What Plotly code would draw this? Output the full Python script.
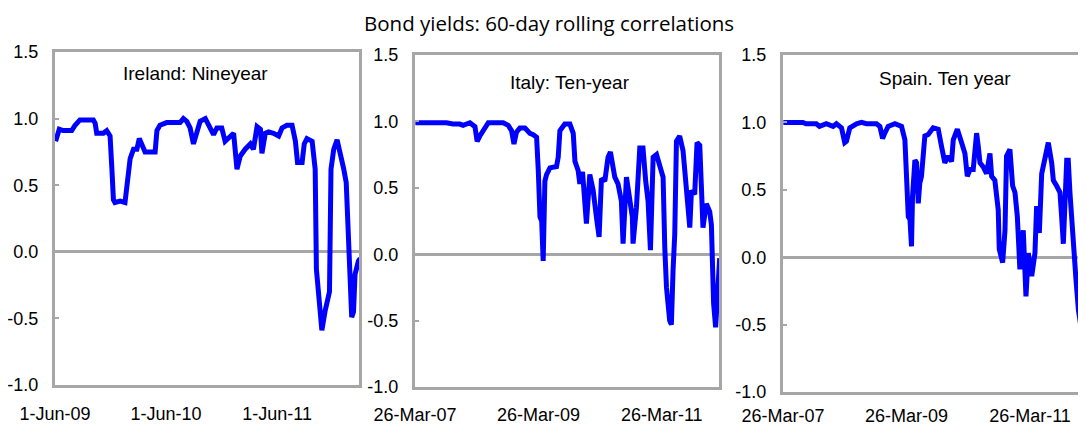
import plotly.graph_objects as go

title_text = "Bond yields: 60-day rolling correlations"
panel_titles = ["Ireland: Nineyear", "Italy: Ten-year", "Spain. Ten year"]

ireland_dates = ["2009-06-03", "2009-06-15", "2009-06-28", "2009-07-26", "2009-08-06", "2009-08-22",
                 "2009-10-05", "2009-10-11", "2009-10-16", "2009-11-07", "2009-11-18", "2009-11-29",
                 "2009-12-05", "2009-12-10", "2009-12-15", "2010-01-01", "2010-01-17", "2010-01-23",
                 "2010-02-03", "2010-02-14", "2010-02-25", "2010-03-05", "2010-03-13", "2010-03-24",
                 "2010-04-26", "2010-05-02", "2010-05-12", "2010-06-03", "2010-07-17", "2010-07-28",
                 "2010-08-08", "2010-08-19", "2010-08-30", "2010-09-10", "2010-09-21", "2010-10-08",
                 "2010-10-18", "2010-11-04", "2010-11-15", "2010-12-01", "2010-12-12", "2010-12-29",
                 "2011-01-09", "2011-01-20", "2011-01-31", "2011-02-16", "2011-03-05", "2011-03-15",
                 "2011-03-27", "2011-04-07", "2011-04-12", "2011-04-23", "2011-05-04", "2011-05-20",
                 "2011-06-06", "2011-06-17", "2011-07-03", "2011-07-20", "2011-07-31", "2011-08-07",
                 "2011-08-22", "2011-08-29", "2011-09-07", "2011-09-24", "2011-10-04", "2011-10-08",
                 "2011-10-15", "2011-10-26", "2011-11-06", "2011-11-17", "2011-11-20", "2011-11-25",
                 "2011-12-04", "2011-12-15", "2011-12-26", "2012-01-06", "2012-01-14", "2012-01-22",
                 "2012-01-27", "2012-02-01", "2012-02-07", "2012-02-12", "2012-02-23", "2012-02-29"]
ireland_vals = [0.83, 0.92, 0.91, 0.91, 0.95, 0.99,
                0.99, 0.965, 0.89, 0.89, 0.91, 0.87,
                0.62, 0.39, 0.37, 0.38, 0.37, 0.51,
                0.70, 0.77, 0.77, 0.85, 0.81, 0.75,
                0.75, 0.91, 0.95, 0.97, 0.97, 1.00,
                0.98, 0.93, 0.81, 0.89, 0.98, 1.00,
                0.96, 0.88, 0.93, 0.93, 0.83, 0.87,
                0.89, 0.62, 0.72, 0.77, 0.81, 0.77,
                0.94, 0.92, 0.74, 0.89, 0.90, 0.89,
                0.87, 0.93, 0.95, 0.95, 0.83, 0.67,
                0.67, 0.81, 0.85, 0.83, 0.62, -0.13,
                -0.34, -0.59, -0.44, -0.32, -0.30, 0.62,
                0.77, 0.84, 0.74, 0.62, 0.52, -0.03,
                -0.26, -0.49, -0.45, -0.17, -0.07, -0.05]

italy_dates = ["2007-03-28", "2007-09-28", "2007-11-06", "2007-12-16", "2008-01-05", "2008-02-14",
               "2008-03-15", "2008-03-28", "2008-04-13", "2008-05-13", "2008-06-02", "2008-08-29",
               "2008-09-28", "2008-10-18", "2008-11-01", "2008-11-16", "2008-12-06", "2009-01-05",
               "2009-02-04", "2009-02-23", "2009-03-15", "2009-03-25", "2009-04-04", "2009-04-14",
               "2009-04-23", "2009-05-03", "2009-05-13", "2009-06-02", "2009-07-11", "2009-07-21",
               "2009-07-31", "2009-08-29", "2009-09-28", "2009-10-18", "2009-10-28", "2009-11-16",
               "2009-11-26", "2009-12-12", "2009-12-26", "2010-01-04", "2010-01-24", "2010-02-13",
               "2010-03-04", "2010-03-20", "2010-04-03", "2010-04-23", "2010-05-12", "2010-05-26",
               "2010-06-21", "2010-07-10", "2010-07-30", "2010-08-09", "2010-08-29", "2010-09-17",
               "2010-10-03", "2010-10-07", "2010-10-27", "2010-11-16", "2010-12-05", "2010-12-21",
               "2011-01-04", "2011-01-18", "2011-02-03", "2011-02-23", "2011-03-14", "2011-04-03",
               "2011-04-13", "2011-04-23", "2011-05-12", "2011-05-22", "2011-06-01", "2011-06-11",
               "2011-06-21", "2011-07-10", "2011-07-30", "2011-08-19", "2011-09-08", "2011-09-18",
               "2011-10-07", "2011-10-21", "2011-11-06", "2011-11-16", "2011-11-25", "2011-12-15",
               "2012-01-04", "2012-01-14", "2012-01-19", "2012-01-27", "2012-02-08", "2012-02-22",
               "2012-03-03"]
italy_vals = [0.99, 0.99, 0.98, 0.98, 0.97, 0.99,
              0.96, 0.85, 0.89, 0.95, 0.99, 0.99,
              0.97, 0.93, 0.83, 0.92, 0.95, 0.95,
              0.91, 0.90, 0.88, 0.63, 0.28, 0.25,
              -0.05, 0.55, 0.60, 0.65, 0.66, 0.73,
              0.93, 0.98, 0.98, 0.91, 0.70, 0.63,
              0.53, 0.62, 0.38, 0.23, 0.60, 0.48,
              0.28, 0.13, 0.57, 0.55, 0.73, 0.77,
              0.58, 0.53, 0.40, 0.08, 0.58, 0.38,
              0.28, 0.08, 0.35, 0.80, 0.80, 0.55,
              0.40, 0.03, 0.73, 0.75, 0.65, 0.58,
              0.05, -0.25, -0.50, -0.53, -0.12, 0.15,
              0.85, 0.89, 0.78, 0.50, 0.20, 0.48,
              0.45, 0.84, 0.82, 0.50, 0.20, 0.38,
              0.32, 0.22, 0.00, -0.37, -0.55, -0.25,
              -0.03]

spain_dates = ["2007-03-28", "2007-07-21", "2007-08-10", "2007-10-09", "2007-10-28", "2007-12-07",
               "2008-01-16", "2008-02-05", "2008-03-06", "2008-03-25", "2008-04-04", "2008-04-24",
               "2008-06-03", "2008-07-02", "2008-08-01", "2008-09-29", "2008-10-19", "2008-11-04",
               "2008-11-17", "2008-12-07", "2009-01-16", "2009-02-24", "2009-03-16", "2009-03-26",
               "2009-04-05", "2009-04-15", "2009-04-24", "2009-04-30", "2009-05-14", "2009-05-24",
               "2009-06-03", "2009-06-12", "2009-06-22", "2009-07-12", "2009-08-01", "2009-08-30",
               "2009-09-29", "2009-10-19", "2009-11-07", "2009-11-27", "2009-12-17", "2009-12-27",
               "2010-01-20", "2010-02-14", "2010-03-06", "2010-03-20", "2010-04-05", "2010-04-24",
               "2010-05-04", "2010-05-14", "2010-05-24", "2010-06-03", "2010-06-22", "2010-07-12",
               "2010-08-01", "2010-08-11", "2010-08-30", "2010-09-19", "2010-09-25", "2010-10-15",
               "2010-10-29", "2010-11-07", "2010-11-27", "2010-12-13", "2010-12-27", "2011-01-10",
               "2011-01-25", "2011-02-14", "2011-03-02", "2011-03-16", "2011-04-05", "2011-04-24",
               "2011-05-04", "2011-05-20", "2011-06-03", "2011-06-23", "2011-07-12", "2011-08-01",
               "2011-08-11", "2011-08-30", "2011-09-19", "2011-09-29", "2011-10-09", "2011-10-29",
               "2011-11-07", "2011-11-17", "2011-11-27", "2011-12-07", "2011-12-23", "2012-01-06",
               "2012-01-16", "2012-02-05", "2012-02-15", "2012-02-20", "2012-03-01"]
spain_vals = [1.00, 1.00, 0.99, 0.99, 0.97, 0.99,
              0.97, 0.99, 0.96, 0.85, 0.86, 0.96,
              0.99, 1.00, 0.99, 0.99, 0.97, 0.88,
              0.92, 0.97, 0.99, 0.97, 0.87, 0.62,
              0.30, 0.28, 0.08, 0.45, 0.72, 0.70,
              0.40, 0.55, 0.60, 0.90, 0.91, 0.96,
              0.95, 0.82, 0.70, 0.75, 0.71, 0.87,
              0.95, 0.85, 0.77, 0.60, 0.65, 0.65,
              0.82, 0.92, 0.82, 0.70, 0.67, 0.62,
              0.77, 0.60, 0.57, 0.35, 0.06, -0.04,
              0.20, 0.75, 0.80, 0.53, 0.48, 0.30,
              -0.09, 0.20, -0.29, 0.03, -0.14, 0.03,
              0.38, 0.18, 0.62, 0.75, 0.85, 0.70,
              0.57, 0.53, 0.48, 0.30, 0.10, 0.72,
              0.72, 0.48, 0.27, 0.08, -0.17, -0.39,
              -0.49, -0.64, -0.32, -0.22, -0.15]

ireland_ticks = ["2009-06-01", "2010-06-01", "2011-06-01"]
ireland_ticktext = ["1-Jun-09", "1-Jun-10", "1-Jun-11"]
mar_ticks = ["2007-03-26", "2009-03-26", "2011-03-26"]
mar_ticktext = ["26-Mar-07", "26-Mar-09", "26-Mar-11"]
y_ticks = [-1.0, -0.5, 0.0, 0.5, 1.0, 1.5]
y_ticktext = ["-1.0", "-0.5", "0.0", "0.5", "1.0", "1.5"]

# The page body keeps its default 8px margin, so the figure is drawn 8px in from the
# window's top-left corner; size it to fill the rest of the 1086x427 window.
PAGE_W, PAGE_H, OFF = 1086, 427, 8
W, H = PAGE_W - OFF, PAGE_H - OFF
GRAY = "#A6A6A6"
BLUE = "#0000FF"
TICKFONT = dict(family="Liberation Sans, Arial, sans-serif", size=18, color="#000000")


def fx(px):
    return min(1.0, max(0.0, (px - OFF) / W))


def fy(py):
    return min(1.0, max(0.0, 1 - (py - OFF) / H))


panels = [
    dict(dates=ireland_dates, vals=ireland_vals, ticks=ireland_ticks, ticktext=ireland_ticktext,
         xrange=["2009-06-01", "2012-02-25"], px=(55, 359), py=(52, 385), mirror_y=True,
         title_xy=(195, 74), standoff=10),
    dict(dates=italy_dates, vals=italy_vals, ticks=mar_ticks, ticktext=mar_ticktext,
         xrange=["2007-03-26", "2012-02-28"], px=(415, 719), py=(55, 387), mirror_y=True,
         title_xy=(570, 82), standoff=9),
    dict(dates=spain_dates, vals=spain_vals, ticks=mar_ticks, ticktext=mar_ticktext,
         xrange=["2007-03-26", "2012-02-20"], px=(783, 1086), py=(55, 392), mirror_y=False,
         title_xy=(945, 79), standoff=5),
]

fig = go.Figure()
layout = dict(width=W, height=H, margin=dict(l=0, r=0, t=0, b=0, autoexpand=False),
              paper_bgcolor="white", plot_bgcolor="white", showlegend=False,
              template="none")
annotations = []

for i, p in enumerate(panels):
    n = i + 1
    xa = "x" if n == 1 else f"x{n}"
    ya = "y" if n == 1 else f"y{n}"
    xkey = "xaxis" if n == 1 else f"xaxis{n}"
    ykey = "yaxis" if n == 1 else f"yaxis{n}"
    xd = [fx(p["px"][0]), fx(p["px"][1])]
    yd = [fy(p["py"][1]), fy(p["py"][0])]
    fig.add_trace(go.Scatter(x=p["dates"], y=p["vals"], mode="lines", xaxis=xa, yaxis=ya,
                             line=dict(color=BLUE, width=5), hoverinfo="skip"))
    layout[xkey] = dict(domain=xd, anchor=ya, type="date", range=p["xrange"], automargin=False,
                        tickvals=p["ticks"], ticktext=p["ticktext"], tickfont=TICKFONT,
                        showgrid=False, zeroline=False, showline=True, linecolor=GRAY,
                        linewidth=3, mirror=True, ticks="", ticklabelstandoff=p["standoff"])
    layout[ykey] = dict(domain=yd, anchor=xa, range=[-1.0, 1.5], tickvals=y_ticks,
                        ticktext=y_ticktext, tickfont=TICKFONT, showgrid=False, automargin=False,
                        zeroline=True, zerolinecolor=GRAY, zerolinewidth=2.5,
                        showline=True, linecolor=GRAY, linewidth=3,
                        mirror=p["mirror_y"], ticks="inside", ticklen=4, tickwidth=2,
                        tickcolor=GRAY, ticklabelstandoff=10)
    # tick marks sitting on the zero line
    zero_pos = yd[0] + (yd[1] - yd[0]) * (1.0 / 2.5)
    zkey = f"xaxis{n + 3}"
    layout[zkey] = dict(domain=xd, overlaying=xa, anchor="free", position=zero_pos,
                        type="date", range=p["xrange"], tickvals=p["ticks"][1:], automargin=False,
                        showticklabels=False, ticks="inside", ticklen=4, tickwidth=2,
                        tickcolor=GRAY, showgrid=False, zeroline=False, showline=False)
    annotations.append(dict(text=panel_titles[i], x=fx(p["title_xy"][0]), y=fy(p["title_xy"][1]),
                            xref="paper", yref="paper", showarrow=False, xanchor="center",
                            yanchor="middle",
                            font=dict(family="Liberation Sans, Arial, sans-serif", size=19,
                                      color="#000000")))

annotations.append(dict(text=title_text, x=fx(549), y=1.0, xref="paper", yref="paper",
                        showarrow=False, xanchor="center", yanchor="top", borderpad=0,
                        font=dict(family="Open Sans, sans-serif", size=20.5, color="#000000")))
layout["annotations"] = annotations
fig.update_layout(**layout)
fig.write_html("out.html")
